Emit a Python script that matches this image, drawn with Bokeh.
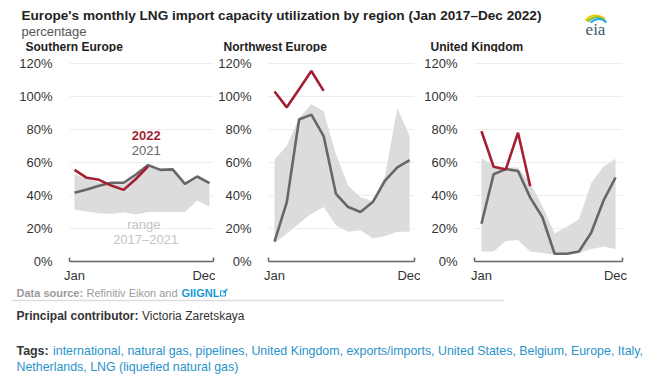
from bokeh.plotting import figure
from bokeh.layouts import column, row
from bokeh.models import Range1d, FixedTicker, PrintfTickFormatter, ColumnDataSource
from bokeh.core.properties import value
from bokeh.embed import file_html
from bokeh.resources import INLINE

# ---------------- data ----------------
months = [1, 2, 3, 4, 5, 6, 7, 8, 9, 10, 11, 12]
month_labels = {1: "Jan", 12: "Dec"}
y_ticks = [0, 20, 40, 60, 80, 100, 120]

# Southern Europe
se_2021 = [41.6, 43.6, 45.9, 47.7, 47.7, 52.7, 58.4, 55.5, 55.8, 47.0, 51.5, 47.5]
se_2022 = [55.5, 50.7, 49.5, 46.0, 43.4, 50.0, 57.6]
se_low = [31.3, 30.3, 29.3, 28.9, 29.9, 28.5, 30.0, 30.0, 30.0, 30.0, 37.0, 33.3]
se_high = [53.0, 50.0, 48.0, 47.7, 47.7, 52.7, 58.4, 55.5, 55.8, 47.0, 51.5, 47.5]

# Northwest Europe
nw_2021 = [12.0, 36.0, 86.0, 89.0, 76.0, 41.0, 33.0, 30.0, 36.0, 49.0, 57.0, 61.4]
nw_2022 = [103.0, 93.4, 104.4, 115.4, 103.4]
nw_low = [11.0, 17.0, 23.0, 29.0, 33.0, 22.0, 18.0, 19.0, 14.0, 15.4, 18.0, 18.0]
nw_high = [62.0, 70.0, 87.0, 95.4, 91.0, 65.0, 46.0, 39.0, 36.5, 52.0, 93.0, 76.0]

# United Kingdom
uk_2021 = [22.9, 52.9, 56.0, 54.8, 38.7, 26.8, 4.7, 4.7, 6.1, 17.4, 36.7, 50.9]
uk_2022 = [79.0, 57.4, 55.8, 78.0, 45.6]
uk_low = [6.1, 6.1, 12.4, 13.0, 6.1, 5.1, 4.1, 4.1, 5.1, 7.5, 9.0, 7.5]
uk_high = [62.7, 58.0, 57.0, 57.0, 47.5, 33.7, 17.0, 21.0, 25.8, 47.5, 57.4, 62.3]

FONT_NAME = "Liberation Sans"
FONT = value(FONT_NAME)
RED = "#a51f33"
GRAY = "#676767"
BAND = "#dcdcdc"


def panel(width, left, right, xr, low, high, y21, y22):
    p = figure(width=width, height=233, x_range=Range1d(*xr), y_range=Range1d(0, 123),
               output_backend="svg", toolbar_location=None,
               min_border_left=left, min_border_right=right,
               min_border_top=6, min_border_bottom=24)
    p.outline_line_color = None
    p.background_fill_color = "white"
    p.border_fill_color = "white"
    src = ColumnDataSource(dict(x=months, low=low, high=high, y21=y21))
    p.varea(x="x", y1="low", y2="high", source=src, fill_color=BAND)
    p.line("x", "y21", source=src, line_color=GRAY, line_width=2.6)
    src22 = ColumnDataSource(dict(x=months[:len(y22)], y=y22))
    p.line("x", "y", source=src22, line_color=RED, line_width=2.6)

    xa = p.xaxis[0]
    xa.ticker = FixedTicker(ticks=[1, 12], minor_ticks=[xr[0] + 0.03, xr[1] - 0.03])
    xa.major_label_overrides = month_labels
    xa.major_tick_in = 0
    xa.major_tick_out = 0
    xa.minor_tick_in = 4
    xa.minor_tick_out = 0
    xa.minor_tick_line_color = "#666666"
    xa.minor_tick_line_width = 1.5
    xa.axis_line_color = "#666666"
    xa.axis_line_width = 1.5
    xa.major_label_text_font = FONT_NAME
    xa.major_label_text_font_size = "13px"
    xa.major_label_text_color = "#333333"
    xa.major_label_standoff = 6

    ya = p.yaxis[0]
    ya.ticker = FixedTicker(ticks=y_ticks)
    ya.formatter = PrintfTickFormatter(format="%d%%")
    ya.axis_line_color = None
    ya.major_tick_line_color = None
    ya.minor_tick_line_color = None
    ya.major_label_standoff = 11
    ya.major_label_text_font = FONT_NAME
    ya.major_label_text_font_size = "13px"
    ya.major_label_text_color = "#333333"

    p.xgrid.visible = False
    p.ygrid.grid_line_color = "#ededed"
    p.ygrid.grid_line_width = 1
    return p


p1 = panel(215, 69, 2, (0.59, 12.33), se_low, se_high, se_2021, se_2022)
p2 = panel(205, 52, 6, (0.51, 12.40), nw_low, nw_high, nw_2021, nw_2022)
p3 = panel(243, 54, 41, (0.43, 12.57), uk_low, uk_high, uk_2021, uk_2022)

# annotations in Southern Europe panel
p1.text(x=[6.85], y=[76.5], text=["2022"], text_font=FONT, text_font_style="bold",
        text_font_size="13px", text_color=RED, text_align="center", text_baseline="middle")
p1.text(x=[6.85], y=[67.5], text=["2021"], text_font=FONT,
        text_font_size="13px", text_color=GRAY, text_align="center", text_baseline="middle")
p1.text(x=[6.65, 6.8], y=[22.4, 13.3], text=["range", "2017\u20132021"], text_font=FONT,
        text_font_size="13px", text_color="#c4c4c4", text_align="center", text_baseline="middle")


def canvas(h):
    f = figure(width=663, height=h, x_range=Range1d(0, 663), y_range=Range1d(h, 0),
               x_axis_type=None, y_axis_type=None, output_backend="svg",
               toolbar_location=None, min_border=0)
    f.xgrid.visible = False
    f.ygrid.visible = False
    f.outline_line_color = None
    f.background_fill_color = "white"
    f.border_fill_color = "white"
    return f


# ---------------- header ----------------
head = canvas(52)
head.text(x=[21], y=[15], text=["Europe's monthly LNG import capacity utilization by region (Jan 2017\u2013Dec 2022)"],
          text_font=FONT, text_font_style="bold", text_font_size="13.6px", text_color="#222222",
          text_baseline="middle")
head.text(x=[21], y=[31], text=["percentage"], text_font=FONT, text_font_size="13px",
          text_color="#555555", text_baseline="middle")
head.text(x=[25, 223, 430], y=[46, 46, 46], text=["Southern Europe", "Northwest Europe", "United Kingdom"],
          text_font=FONT, text_font_style="bold", text_font_size="12px", text_color="#222222",
          text_baseline="middle")
# eia logo
head.quadratic(x0=[585], y0=[20], x1=[604], y1=[18], cx=[593], cy=[11], line_color="#f4c400", line_width=2)
head.quadratic(x0=[587], y0=[21], x1=[605], y1=[20], cx=[596], cy=[13], line_color="#7dbf3b", line_width=2)
head.quadratic(x0=[590], y0=[22], x1=[606], y1=[22], cx=[599], cy=[15], line_color="#27a9e1", line_width=2)
head.text(x=[595], y=[29], text=["eia"], text_font=value("Liberation Serif"), text_font_size="17px",
          text_color="#3d5a6e", text_align="center", text_baseline="middle")

# ---------------- footer ----------------
foot = canvas(96)
foot.text(x=[16], y=[7], text=["Data source:"], text_font=FONT, text_font_style="bold",
          text_font_size="11px", text_color="#9a9a9a", text_baseline="middle")
foot.text(x=[86], y=[7], text=["Refinitiv Eikon and"], text_font=FONT,
          text_font_size="11px", text_color="#9a9a9a", text_baseline="middle")
foot.text(x=[181], y=[7], text=["GIIGNL"], text_font=FONT, text_font_style="bold",
          text_font_size="11px", text_color="#1a9ad6", text_baseline="middle")
foot.rect(x=[222.5], y=[8], width=[5], height=[5], fill_color=None, line_color="#1a9ad6", line_width=1)
foot.segment(x0=[223], y0=[7.5], x1=[227], y1=[3.5], line_color="#1a9ad6", line_width=1.2)
foot.segment(x0=[12], y0=[15], x1=[503], y1=[15], line_color="#dddddd", line_width=1.5)
foot.text(x=[16], y=[30], text=["Principal contributor:"], text_font=FONT, text_font_style="bold",
          text_font_size="12px", text_color="#333333", text_baseline="middle")
foot.text(x=[141.5], y=[30], text=["Victoria Zaretskaya"], text_font=FONT,
          text_font_size="12px", text_color="#333333", text_baseline="middle")
foot.text(x=[16], y=[65], text=["Tags:"], text_font=FONT, text_font_style="bold",
          text_font_size="12.4px", text_color="#333333", text_baseline="middle")
foot.text(x=[52.5, 16], y=[65, 81],
          text=["international, natural gas, pipelines, United Kingdom, exports/imports, United States, Belgium, Europe, Italy,",
                "Netherlands, LNG (liquefied natural gas)"],
          text_font=FONT, text_font_size="12.4px", text_color="#2a93c9", text_baseline="middle")

layout = column(head, row(p1, p2, p3), foot)
open("out.html", "w").write(file_html(layout, INLINE))
